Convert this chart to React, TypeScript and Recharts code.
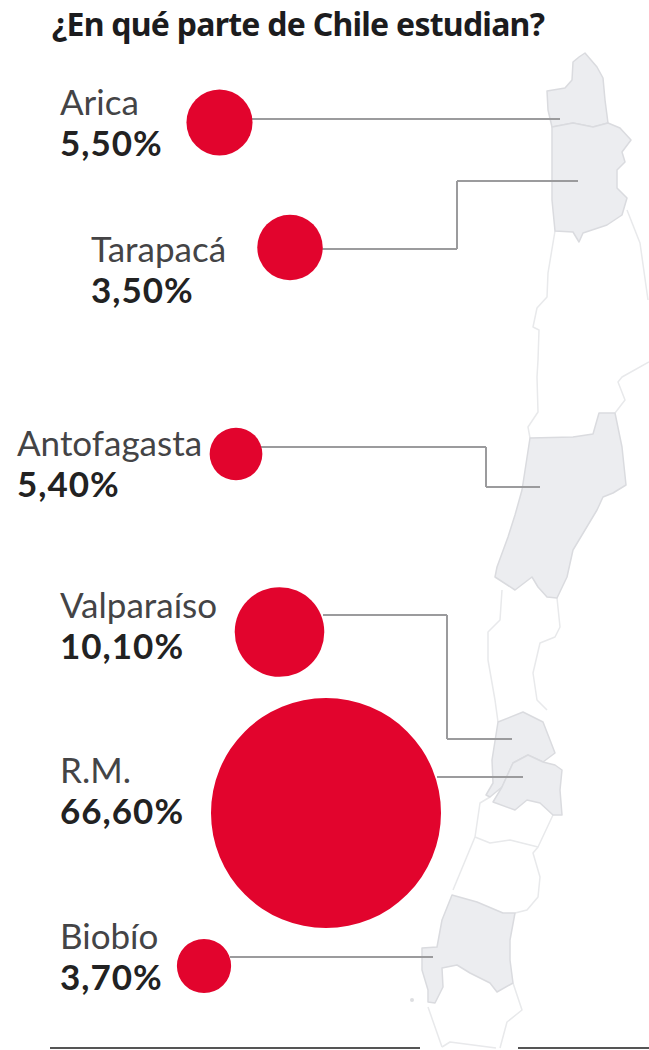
import {
  ScatterChart,
  Scatter,
  XAxis,
  YAxis,
  ZAxis,
  ReferenceLine,
  Customized,
} from "recharts";

const WIDTH = 649;
const HEIGHT = 1050;

const TITLE = "¿En qué parte de Chile estudian?";

const regions = ["Arica", "Tarapacá", "Antofagasta", "Valparaíso", "R.M.", "Biobío"];
const shareLabels = ["5,50%", "3,50%", "5,40%", "10,10%", "66,60%", "3,70%"];

// The original infographic sizes Tarapacá and Antofagasta the other way round
const drawnShare = [5.5, 5.4, 3.5, 10.1, 66.6, 3.7];

// Where things sit on the page
const bubbleX = [219.5, 290, 236, 279.5, 326, 204];
const bubbleY = [122.5, 247.5, 454, 632, 813, 966];
const labelX = [60, 91, 17, 60, 60, 60];
const labelY = [115, 262, 456, 618, 783, 949];

const leaders: [number, number][][] = [
  [[250, 119], [560, 119]],
  [[320, 249], [457, 249], [457, 181], [578, 181]],
  [[260, 447], [486, 447], [486, 487], [540, 487]],
  [[323, 615], [447, 615], [447, 739], [512, 739]],
  [[437, 777], [523, 777]],
  [[230, 957], [433, 957]],
];

const rules: [number, number][][] = [
  [[50, 1048], [420, 1048]],
  [[518, 1048], [649, 1048]],
];

const shadedMap = [
  "585,53 579,57 573,62 572,80 565,88 547,91 548,110 552,127 573,123 593,127 608,123 605,100 603,78 597,67",
  "552,127 573,123 593,127 608,123 620,128 631,140 622,152 625,162 617,170 617,188 627,198 622,215 607,225 583,233 579,242 573,232 555,231 552,200",
  "530,438 573,437 593,434 599,413 615,413 622,447 626,485 613,493 603,497 597,510 573,550 567,577 557,598 547,597 538,587 532,577 515,590 495,577 497,567 508,537 515,515 522,490",
  "498,722 523,712 543,722 550,740 555,753 543,762 528,755 513,763 502,787 490,797 486,795 493,783 492,760",
  "528,755 543,762 555,765 562,770 560,790 562,815 553,815 540,803 527,800 515,810 493,802 502,787 513,763",
  "452,895 477,902 503,913 515,913 510,940 510,960 513,983 497,992 490,983 470,973 457,965 442,968 443,987 435,1003 428,1002 428,990 422,970 422,948 437,947 442,920",
];

const outlineMap = [
  "555,231 548,273 547,297 537,308 533,327 539,330 538,360 537,377 538,412 528,427 530,438",
  "627,210 640,243 648,300",
  "649,362 622,377 618,382 625,400 615,413",
  "502,590 500,620 488,632 488,660 495,700 498,722",
  "557,598 560,627 555,637 540,643 533,673 537,700 547,710",
  "490,797 480,803 475,837 453,890",
  "475,837 490,843 510,840 538,847 553,815",
  "538,847 533,853 540,877 538,897 527,910 515,913",
  "428,1007 442,1047",
  "513,983 522,1010 507,1022 500,1048",
  "442,1047 450,1042 496,1048",
];

const bubbles = regions.map((name, i) => ({
  name,
  x: bubbleX[i],
  y: bubbleY[i],
  z: drawnShare[i],
}));

const labels = regions.map((name, i) => ({
  name,
  share: shareLabels[i],
  x: labelX[i],
  y: labelY[i],
}));

function MapOutline() {
  return (
    <g>
      {outlineMap.map((points) => (
        <polyline key={points} points={points} fill="none" stroke="#E8E9EB" strokeWidth={1.5} strokeLinejoin="round" />
      ))}
      {shadedMap.map((points) => (
        <polygon key={points} points={points} fill="#ECEDF0" stroke="#DADBDF" strokeWidth={1.5} strokeLinejoin="round" />
      ))}
      <circle cx={412} cy={1000} r={2} fill="#DDDEE1" />
      <text x={52} y={36} fontFamily="Noto Sans" fontWeight={700} fontSize={32} letterSpacing={-0.75} fill="#1C1C1E">
        {TITLE}
      </text>
    </g>
  );
}

function RegionLabel(props: any) {
  const { cx, cy, payload } = props;
  return (
    <text x={cx} y={cy} fontFamily="Lato" fontSize={35} fill="#444446">
      <tspan x={cx} y={cy}>{payload.name}</tspan>
      <tspan x={cx} y={cy + 41} fontWeight={700} letterSpacing={1} fill="#222">{payload.share}</tspan>
    </text>
  );
}

export default function App() {
  return (
    <div style={{ position: "absolute", left: 0, top: 0, width: WIDTH, height: HEIGHT, background: "#fff" }}>
      <ScatterChart width={WIDTH} height={HEIGHT} margin={{ top: 0, right: 0, bottom: 0, left: 0 }}>
        <XAxis type="number" dataKey="x" domain={[0, WIDTH]} hide />
        <YAxis type="number" dataKey="y" domain={[0, HEIGHT]} reversed hide />
        <ZAxis type="number" dataKey="z" domain={[0, 66.6]} range={[0, 41548]} />
        <Customized component={MapOutline} />
        {leaders.flatMap((path, i) =>
          path.slice(1).map((pt, j) => (
            <ReferenceLine
              key={`leader-${i}-${j}`}
              segment={[
                { x: path[j][0], y: path[j][1] },
                { x: pt[0], y: pt[1] },
              ]}
              stroke="#9B9B9D"
              strokeWidth={2}
            />
          ))
        )}
        {rules.map((path, i) => (
          <ReferenceLine
            key={`rule-${i}`}
            segment={[
              { x: path[0][0], y: path[0][1] },
              { x: path[1][0], y: path[1][1] },
            ]}
            stroke="#555"
            strokeWidth={2}
          />
        ))}
        <Scatter data={bubbles} fill="#E2042D" isAnimationActive={false} />
        <Scatter data={labels} shape={RegionLabel} isAnimationActive={false} />
      </ScatterChart>
    </div>
  );
}
